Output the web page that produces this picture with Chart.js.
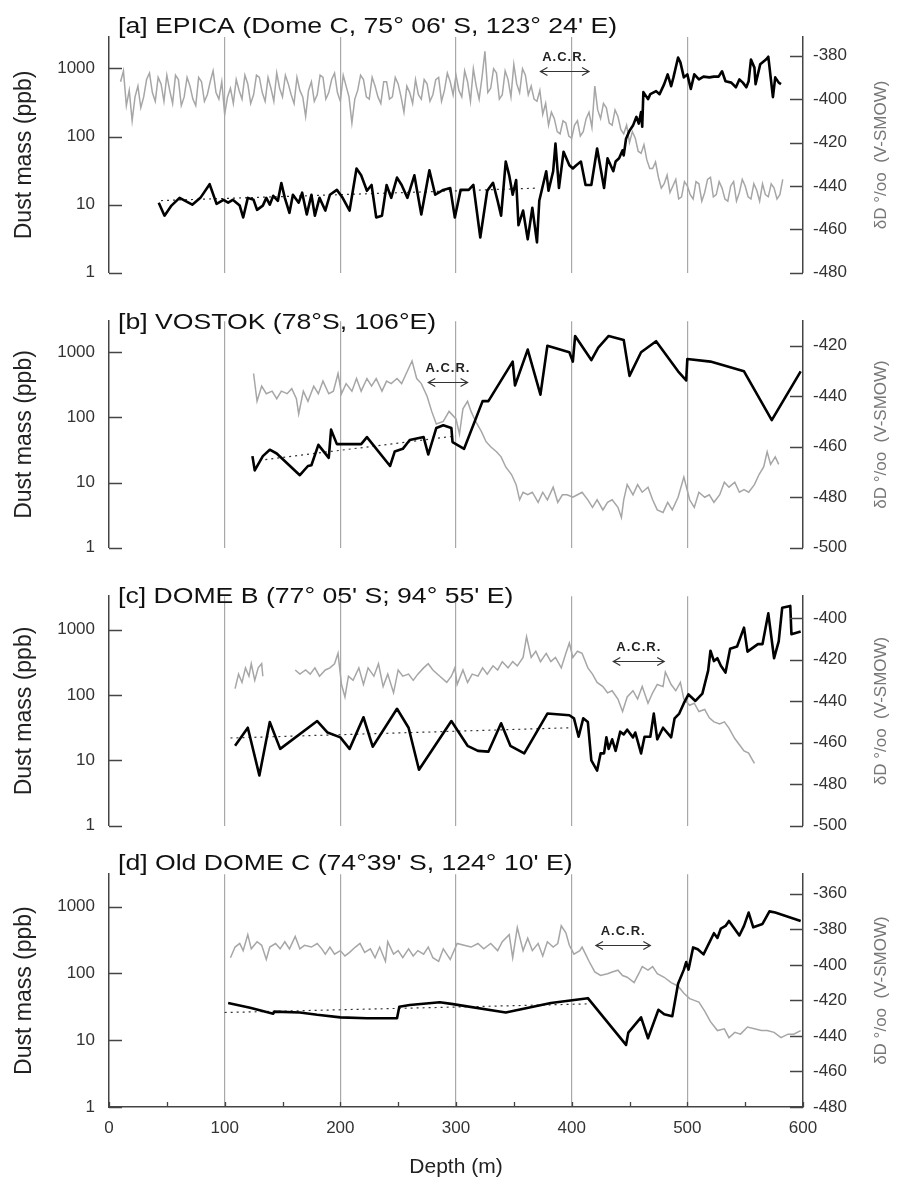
<!DOCTYPE html>
<html>
<head>
<meta charset="utf-8">
<script src="https://cdn.jsdelivr.net/npm/chart.js@4.4.1/dist/chart.umd.min.js"></script>
<style>
  body { margin: 0; background: #fff; width: 902px; height: 1180px; position: relative; overflow: hidden; }
  canvas { position: absolute; left: 0; }
</style>
</head>
<body>
<canvas id="pa" width="902" height="297" style="top:0px"></canvas>
<canvas id="pb" width="902" height="275" style="top:297px"></canvas>
<canvas id="pc" width="902" height="278" style="top:572px"></canvas>
<canvas id="pd" width="902" height="330" style="top:850px"></canvas>
<script>
// ---- ticks / labels ----
const depthTicks = [0, 100, 200, 300, 400, 500, 600];
const depthMinorTicks = [50, 150, 250, 350, 450, 550];
const dustTicks = [1, 10, 100, 1000];
const dDTicksA = [-480, -460, -440, -420, -400, -380];
const dDTicksB = [-500, -480, -460, -440, -420];
const dDTicksC = [-500, -480, -460, -440, -420, -400];
const dDTicksD = [-480, -460, -440, -420, -400, -380, -360];
const panelTitles = [
  "[a] EPICA (Dome C, 75° 06' S, 123° 24' E)",
  "[b] VOSTOK (78°S, 106°E)",
  "[c] DOME B (77° 05' S; 94° 55' E)",
  "[d] Old DOME C (74°39' S, 124° 10' E)"
];
// A.C.R. depth spans (m)
const acrSpans = [[373, 415], [276, 310], [436, 480], [421, 468]];

// ---- [a] EPICA: dust (ppb) and dD (permil) vs depth (m) ----
const epicaDust = [[43,10.7],[48,6.9],[54,9.7],[61,12.6],[72,10],[79,12.6],[87,20],[93,10.3],[99,11.8],[103,10.7],[107,11.8],[113,9.7],[116,6.5],[120,12.6],[125,11.8],[128,8.4],[133,9.7],[136,12.6],[139,10],[142,13.5],[146,11.4],[149,20.8],[152,12.6],[156,7.6],[159,14],[164,10.7],[167,15],[171,7.2],[175,14],[178,6.9],[182,12.6],[187,8.2],[191,14],[197,16.5],[202,12.6],[208,8.2],[214,34],[218,27],[223,16],[227,19.5],[231,6.5],[236,6.9],[240,19.5],[244,12.6],[249,25],[253,19.5],[258,12.6],[264,27],[270,7.2],[277,32],[282,14],[289,16.5],[295,17.6],[299,6.5],[304,16.5],[311,16.5],[315,19.5],[321,3.3],[327,16],[332,21],[336,11.4],[339,6.9],[343,43],[346,27],[349,14],[352,23],[354,5],[358,8.2],[362,3.1],[366,9],[370,2.8],[372,11.4],[378,31],[380,16],[384,31],[386,79],[389,17.6],[393,60],[398,38],[401,34],[404,38],[408,43],[412,19.5],[417,19.5],[422,67],[428,17.6],[431,48],[436,31],[438,43],[441,48],[444,63],[445,53],[447,93],[450,122],[453,145],[456,195],[458,155],[460,230],[461,140],[462,450],[466,355],[468,420],[473,465],[476,420],[480,590],[483,820],[486,550],[488,740],[492,1450],[494,1230],[497,740],[500,820],[503,500],[506,820],[510,690],[514,760],[519,740],[523,760],[527,760],[530,910],[533,650],[538,620],[542,530],[545,690],[548,620],[551,530],[553,650],[555,1350],[558,1030],[559,590],[563,1150],[568,1350],[570,1490],[574,380],[576,740],[579,620],[581,590]];
const epicaTrend = [[45,11.5],[370,17.5]];
const epicaDD = [[10,-392],[12.5,-387],[15,-403],[17.5,-396],[20,-410],[22.5,-399],[25,-394],[27.5,-404],[30,-399],[32.5,-391],[35,-388],[37.5,-397],[40,-401],[42.5,-390],[45,-393],[47.5,-401],[50,-389],[52.5,-396],[55,-402],[57.5,-389],[60,-391],[62.5,-403],[65,-399],[67.5,-390],[70,-394],[72.5,-400],[75,-403],[77.5,-390],[80,-392],[82.5,-401],[85,-398],[87.5,-392],[90,-387],[92.5,-397],[95,-400],[97.5,-392],[100,-407],[102.5,-399],[105,-395],[107.5,-402],[110,-391],[112.5,-396],[115,-400],[117.5,-389],[120,-393],[122.5,-402],[125,-398],[127.5,-389],[130,-390],[132.5,-397],[135,-401],[137.5,-390],[140,-395],[142.5,-401],[145,-388],[147.5,-395],[150,-399],[152.5,-389],[155,-393],[157.5,-398],[160,-402],[162.5,-390],[165,-396],[167.5,-399],[170,-408],[172.5,-396],[175,-392],[177.5,-401],[180,-398],[182.5,-389],[185,-390],[187.5,-400],[190,-397],[192.5,-391],[195,-388],[197.5,-397],[200,-401],[202.5,-389],[205,-394],[207.5,-399],[210,-411],[212.5,-400],[215,-396],[217.5,-389],[220,-391],[222.5,-399],[225,-400],[227.5,-390],[230,-394],[232.5,-399],[235,-402],[237.5,-392],[240,-392],[242.5,-400],[245,-399],[247.5,-390],[250,-393],[252.5,-399],[255,-406],[257.5,-394],[260,-397],[262.5,-402],[265,-391],[267.5,-398],[270,-400],[272.5,-391],[275,-393],[277.5,-401],[280,-398],[282.5,-391],[285,-390],[287.5,-401],[290,-396],[292.5,-388],[295,-392],[297.5,-398],[300,-389],[302.5,-396],[305,-399],[307.5,-387],[310,-392],[312.5,-401],[315,-386],[317.5,-394],[320,-400],[322.5,-390],[325,-378],[327.5,-397],[330,-395],[332.5,-386],[335,-388],[337.5,-400],[340,-398],[342.5,-387],[345,-391],[347.5,-399],[350,-384],[352.5,-393],[355,-397],[357.5,-386],[360,-389],[362.5,-398],[365,-394],[367.5,-400],[370,-401],[372.5,-396],[375,-407],[377.5,-402],[380,-412],[382.5,-406],[385,-409],[387.5,-415],[390,-416],[392.5,-410],[395,-411],[397.5,-417],[400,-418],[402.5,-412],[405,-410],[407.5,-417],[410,-415],[412.5,-409],[415,-406],[417.5,-413],[420,-394],[422.5,-405],[425,-409],[427.5,-402],[430,-404],[432.5,-411],[435,-412],[437.5,-405],[440,-408],[442.5,-414],[445,-416],[447.5,-412],[450,-420],[452.5,-415],[455,-418],[457.5,-424],[460,-425],[462.5,-421],[465,-428],[467.5,-432],[470,-432],[472.5,-429],[475,-436],[477.5,-441],[480,-439],[482.5,-435],[485,-443],[487.5,-440],[490,-437],[492.5,-446],[495,-445],[497.5,-438],[500,-440],[502.5,-444],[505,-446],[507.5,-438],[510,-439],[512.5,-447],[515,-443],[517.5,-437],[520,-436],[522.5,-445],[525,-444],[527.5,-438],[530,-441],[532.5,-446],[535,-447],[537.5,-440],[540,-438],[542.5,-447],[545,-443],[547.5,-437],[550,-440],[552.5,-445],[555,-446],[557.5,-439],[560,-442],[562.5,-447],[565,-439],[567.5,-444],[570,-445],[572.5,-439],[575,-441],[577.5,-446],[580,-444],[582.5,-437]];

// ---- [b] VOSTOK ----
const vostokDust = [[124,25.5],[126,15.4],[133,25.5],[139,32],[145,28],[165,13],[172,18],[175,18.5],[181,38],[190,24],[192,65],[197,39],[208,39],[218,39],[223,50],[243,18],[247,30],[254,33],[260,45],[272,50],[276,27],[283,69],[289,76],[296,69],[297,42],[307,33],[323,178],[328,178],[349,720],[351,310],[362,1100],[373,224],[379,1260],[398,1000],[401,720],[403,1780],[417,760],[423,1180],[432,1780],[445,1540],[450,435],[460,1000],[473,1480],[492,510],[499,370],[500,790],[520,720],[549,510],[573,91],[598,510]];
const vostokTrend = [[130,22],[300,52]];
const vostokDD = [[125,-431],[128,-442],[132,-436],[136,-439],[141,-438],[145,-441],[149,-438],[154,-439],[158,-437],[162,-441],[164,-447],[168,-438],[172,-442],[177,-436],[181,-439],[185,-434],[190,-439],[194,-438],[198,-431],[201,-439],[205,-435],[210,-438],[214,-433],[218,-438],[223,-433],[227,-436],[231,-433],[236,-438],[240,-434],[244,-435],[249,-433],[253,-435],[257,-431],[262,-426],[266,-433],[270,-435],[275,-440],[279,-446],[283,-451],[289,-450],[294,-446],[300,-449],[303,-455],[306,-445],[310,-442],[313,-446],[317,-450],[322,-454],[326,-458],[330,-460],[335,-462],[339,-464],[343,-468],[348,-471],[352,-475],[355,-481],[358,-478],[362,-479],[366,-478],[371,-482],[375,-478],[379,-481],[384,-476],[388,-482],[392,-479],[396,-479],[401,-480],[405,-479],[409,-478],[414,-481],[418,-484],[422,-481],[427,-485],[431,-482],[435,-481],[440,-484],[443,-488],[445,-481],[448,-475],[453,-479],[457,-475],[461,-478],[466,-476],[470,-481],[474,-485],[479,-486],[483,-482],[487,-485],[492,-480],[497,-472],[502,-481],[506,-484],[510,-478],[515,-480],[519,-479],[523,-482],[528,-479],[532,-474],[536,-476],[541,-474],[545,-478],[549,-477],[553,-478],[558,-475],[562,-471],[566,-468],[569,-462],[572,-467],[576,-464],[579,-467]];

// ---- [c] DOME B ----
const domeBDust = [[109,16.7],[120,31.6],[130,5.9],[139,38.6],[148,15],[180,40],[189,26.7],[200,22.5],[208,15],[220,45.7],[228,16.2],[249,61.6],[259,31.6],[268,7.2],[296,40],[310,16.7],[319,14],[328,13.6],[339,37],[347,16.7],[359,12.8],[379,52],[398,49],[402,44],[406,23],[410,44],[414,38.6],[417,10],[422,7],[425,12.8],[428,12.8],[430,22.5],[432,15],[435,21],[438,14],[442,27.5],[445,25],[448,29.5],[453,22.5],[455,26.7],[460,12.8],[463,23],[468,23],[471,52],[474,21],[479,31.6],[486,22.5],[489,44],[493,52],[497,75],[501,102],[507,81],[513,105],[518,236],[520,475],[523,330],[526,365],[529,280],[533,220],[537,510],[543,550],[549,1070],[552,460],[561,600],[565,600],[570,1770],[575,365],[579,660],[582,2150],[589,2300],[590,850],[598,935]];
const domeBTrend = [[105,22],[400,31.6]];
const domeBDD = [[109,-434],[112,-427],[115,-431],[118,-424],[121,-428],[123,-422],[126,-430],[129,-424],[132,-422],[133,-428],[145,null],[161,-425],[165,-427],[170,-425],[174,-427],[178,-424],[182,-428],[187,-425],[191,-424],[195,-422],[198,-417],[201,-432],[204,-438],[207,-428],[211,-430],[216,-424],[220,-432],[224,-424],[229,-428],[233,-422],[237,-433],[241,-427],[246,-436],[250,-425],[254,-428],[259,-427],[263,-430],[267,-427],[272,-424],[276,-422],[280,-425],[286,-428],[292,-431],[296,-428],[299,-424],[301,-432],[306,-425],[310,-431],[314,-427],[319,-428],[323,-424],[327,-427],[332,-423],[336,-425],[340,-421],[345,-424],[349,-421],[353,-423],[358,-419],[361,-409],[365,-419],[369,-416],[373,-421],[378,-417],[382,-421],[386,-419],[391,-424],[395,-417],[398,-412],[401,-419],[405,-416],[409,-417],[414,-424],[418,-427],[422,-431],[427,-433],[431,-436],[435,-435],[440,-439],[444,-445],[448,-438],[453,-435],[457,-439],[461,-433],[466,-441],[470,-436],[474,-432],[479,-433],[481,-426],[486,-432],[490,-435],[494,-431],[497,-439],[502,-442],[506,-441],[510,-445],[515,-444],[519,-448],[523,-450],[528,-451],[532,-450],[536,-453],[541,-458],[545,-461],[549,-464],[553,-465],[556,-468],[558,-470]];

// ---- [d] Old DOME C ----
const oldDomeCDust = [[103,36],[122,30.6],[142,25],[143,26.8],[165,26],[180,24],[200,22],[223,21.3],[249,21.3],[251,31.6],[260,33.7],[286,37],[296,35],[343,26],[382,36],[414,42.6],[447,8.5],[449,13],[460,22],[466,10.7],[475,28.6],[480,24.5],[487,22.9],[492,70],[497,114],[499,148],[501,114],[505,245],[509,230],[514,193],[523,400],[526,340],[529,470],[533,515],[536,610],[545,370],[549,515],[553,815],[557,490],[565,550],[571,850],[576,815],[598,610]];
const oldDomeCTrend = [[100,26],[415,35]];
const oldDomeCDD = [[105,-396],[109,-390],[113,-388],[116,-392],[120,-383],[123,-391],[128,-387],[132,-389],[136,-397],[139,-390],[144,-388],[148,-391],[152,-387],[156,-391],[161,-384],[165,-391],[169,-389],[175,-390],[180,-388],[184,-391],[187,-394],[191,-390],[195,-394],[200,-392],[204,-395],[208,-393],[213,-390],[217,-388],[221,-393],[226,-391],[230,-396],[234,-390],[239,-398],[241,-387],[246,-394],[250,-392],[254,-396],[259,-391],[263,-395],[267,-392],[272,-394],[276,-390],[280,-396],[285,-398],[289,-391],[295,-397],[301,-388],[307,-389],[313,-390],[319,-388],[324,-391],[330,-388],[336,-392],[340,-387],[346,-383],[349,-396],[353,-379],[358,-392],[362,-385],[366,-392],[371,-388],[375,-395],[379,-387],[384,-390],[388,-388],[391,-378],[395,-382],[398,-389],[402,-394],[407,-392],[409,-390],[412,-394],[415,-398],[420,-404],[425,-406],[431,-405],[435,-404],[440,-403],[444,-406],[448,-407],[454,-410],[458,-405],[461,-401],[466,-403],[470,-401],[474,-405],[480,-407],[486,-410],[492,-412],[497,-416],[502,-419],[506,-420],[510,-421],[515,-426],[520,-432],[526,-437],[532,-436],[536,-441],[541,-438],[546,-439],[552,-435],[558,-436],[564,-437],[569,-437],[575,-438],[581,-441],[587,-439],[592,-439],[598,-437]];

const FONT = "'Liberation Sans', Arial, sans-serif";
const toXY = pts => pts.map(p => ({ x: p[0], y: p[1] }));

const decor = {
  id: 'decor',
  afterDraw(chart, args, o) {
    const { ctx, chartArea: a, scales } = chart;
    ctx.save();
    // inward tick marks
    ctx.strokeStyle = '#444';
    ctx.lineWidth = 1.3;
    ctx.beginPath();
    dustTicks.forEach(v => {
      const y = Math.round(scales.y.getPixelForValue(v)) + 0.5;
      ctx.moveTo(a.left, y); ctx.lineTo(a.left + 13, y);
    });
    o.dDTicks.forEach(v => {
      const y = Math.round(scales.y2.getPixelForValue(v)) + 0.5;
      ctx.moveTo(a.right - 13, y); ctx.lineTo(a.right, y);
    });
    if (o.showX) {
      depthTicks.concat(depthMinorTicks).forEach(v => {
        const x = Math.round(scales.x.getPixelForValue(v)) + 0.5;
        ctx.moveTo(x, a.bottom); ctx.lineTo(x, a.bottom - 5);
      });
    }
    ctx.stroke();

    // panel title (the original lettering is a little wide)
    ctx.save();
    ctx.fillStyle = '#111';
    ctx.font = '22px ' + FONT;
    ctx.textAlign = 'left';
    ctx.textBaseline = 'alphabetic';
    ctx.translate(118, o.titleY);
    ctx.scale(1.21, 1);
    ctx.fillText(o.title, 0, 0);
    ctx.restore();

    // A.C.R. arrow
    const x1 = scales.x.getPixelForValue(o.acr[0]);
    const x2 = scales.x.getPixelForValue(o.acr[1]);
    const ya = Math.round(scales.y.getPixelForValue(o.acrLevel)) + 0.5;
    ctx.strokeStyle = '#333';
    ctx.lineWidth = 1.2;
    ctx.beginPath();
    ctx.moveTo(x1, ya); ctx.lineTo(x2, ya);
    ctx.moveTo(x1 + 7, ya - 4); ctx.lineTo(x1, ya); ctx.lineTo(x1 + 7, ya + 4);
    ctx.moveTo(x2 - 7, ya - 4); ctx.lineTo(x2, ya); ctx.lineTo(x2 - 7, ya + 4);
    ctx.stroke();
    ctx.fillStyle = '#222';
    ctx.font = 'bold 13px ' + FONT;
    ctx.textAlign = 'center';
    ctx.letterSpacing = '1px';
    ctx.fillText('A.C.R.', (x1 + x2) / 2, ya - 11);
    ctx.letterSpacing = '0px';

    // right axis title
    ctx.translate(881, (a.top + a.bottom) / 2);
    ctx.rotate(-Math.PI / 2);
    ctx.fillStyle = '#777';
    ctx.font = '17px ' + FONT;
    ctx.textAlign = 'center';
    ctx.textBaseline = 'middle';
    ctx.fillText('δD °/oo  (V-SMOW)', 0, 0);
    ctx.restore();
  }
};

function buildPanel(id, p) {
  const el = document.getElementById(id);
  return new Chart(el, {
    type: 'line',
    data: {
      datasets: [
        { data: toXY(p.dust), yAxisID: 'y', borderColor: '#000', borderWidth: 2.6,
          pointRadius: 0, tension: 0, borderJoinStyle: 'round' },
        { data: toXY(p.trend), yAxisID: 'y', borderColor: '#333', borderWidth: 1.2,
          borderDash: [2, 4], pointRadius: 0 },
        { data: toXY(p.dD), yAxisID: 'y2', borderColor: '#a6a6a6', borderWidth: 1.5,
          pointRadius: 0, tension: 0, spanGaps: false }
      ]
    },
    options: {
      responsive: false,
      animation: false,
      devicePixelRatio: 1,
      layout: { padding: { top: p.padTop, bottom: p.padBottom, left: 0, right: 0 } },
      plugins: {
        legend: { display: false },
        tooltip: { enabled: false },
        decor: { title: p.title, titleY: p.titleY, acr: p.acr, acrLevel: p.acrLevel,
                 dDTicks: p.dDTicks, showX: p.showX }
      },
      scales: {
        x: {
          type: 'linear', min: 0, max: 600,
          afterBuildTicks: s => { s.ticks = depthTicks.map(v => ({ value: v })); },
          afterFit: s => { s.height = p.showX ? 73 : 0; },
          ticks: { display: p.showX, padding: 11, color: '#333', font: { family: FONT, size: 17 } },
          grid: {
            drawTicks: false, lineWidth: 1.2,
            color: c => (c.tick && (c.tick.value === 0 || c.tick.value === 600)) ? 'rgba(0,0,0,0)' : '#a8a8a8'
          },
          border: { display: p.showX, color: '#444', width: 1.5 },
          title: { display: p.showX, text: 'Depth (m)', color: '#222',
                   font: { family: FONT, size: 21 }, padding: { top: 0, bottom: 0 } }
        },
        y: {
          type: 'logarithmic', position: 'left', min: 1, max: p.dustMax,
          afterBuildTicks: s => { s.ticks = dustTicks.map(v => ({ value: v })); },
          afterFit: s => { s.width = 109; },
          ticks: { callback: v => String(v), padding: 14, color: '#333', font: { family: FONT, size: 17 } },
          grid: { drawOnChartArea: false, drawTicks: false },
          border: { color: '#444', width: 1.5 },
          title: { display: true, text: 'Dust mass (ppb)', color: '#222',
                   font: { family: FONT, size: 23 }, padding: { top: 11, bottom: 0 } }
        },
        y2: {
          type: 'linear', position: 'right', min: p.dDMin, max: p.dDMax,
          afterBuildTicks: s => { s.ticks = p.dDTicks.map(v => ({ value: v })); },
          afterFit: s => { s.width = 99; },
          ticks: { padding: 10, color: '#333', font: { family: FONT, size: 17 } },
          grid: { drawOnChartArea: false, drawTicks: false },
          border: { color: '#444', width: 1.5 }
        }
      }
    },
    plugins: [decor]
  });
}

buildPanel('pa', { dust: epicaDust, trend: epicaTrend, dD: epicaDD, title: panelTitles[0],
  titleY: 33, padTop: 37, padBottom: 21, dustMax: 2900, dDMin: -480, dDMax: -371.4,
  dDTicks: dDTicksA, acr: acrSpans[0], acrLevel: 905, showX: false });
buildPanel('pb', { dust: vostokDust, trend: vostokTrend, dD: vostokDD, title: panelTitles[1],
  titleY: 32, padTop: 20, padBottom: 15, dustMax: 3000, dDMin: -500, dDMax: -410.3,
  dDTicks: dDTicksB, acr: acrSpans[1], acrLevel: 344, showX: false });
buildPanel('pc', { dust: domeBDust, trend: domeBTrend, dD: domeBDD, title: panelTitles[2],
  titleY: 31, padTop: 13, padBottom: 24, dustMax: 3240, dDMin: -500, dDMax: -389.5,
  dDTicks: dDTicksC, acr: acrSpans[2], acrLevel: 330, showX: false });
buildPanel('pd', { dust: oldDomeCDust, trend: oldDomeCTrend, dD: oldDomeCDD, title: panelTitles[3],
  titleY: 20, padTop: 13, padBottom: 0, dustMax: 3060, dDMin: -480, dDMax: -349,
  dDTicks: dDTicksD, acr: acrSpans[3], acrLevel: 268, showX: true });
</script>
</body>
</html>
